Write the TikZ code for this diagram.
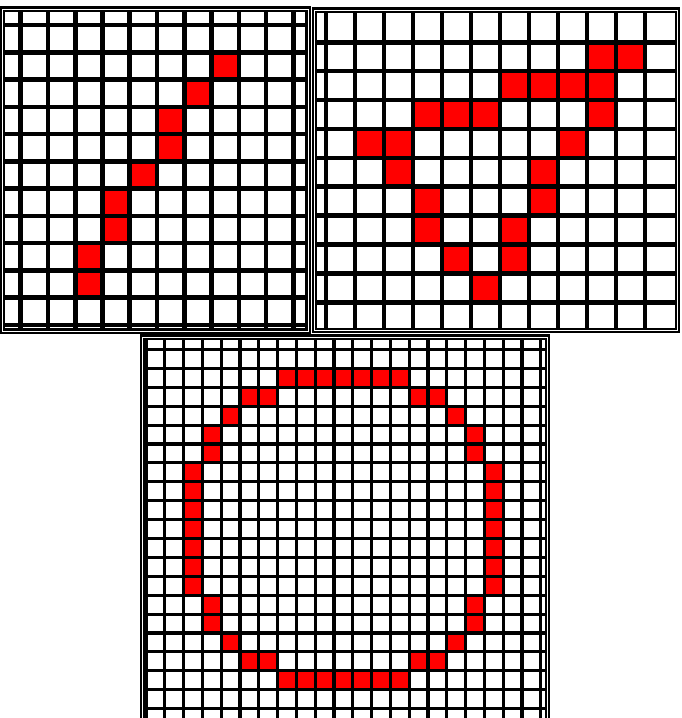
\documentclass[tikz,border=0pt]{standalone}
\usepackage{tikz}

\begin{document}
\begin{tikzpicture}[
    x=1pt, y=-1pt,
    wideline/.style={line width=4.6pt},
    narrowline/.style={line width=3.1pt},
    frame/.style={line width=2.3pt, double=white, double distance=0.6pt},
    hit/.style={fill=red}
]
\useasboundingbox (0,0) rectangle (681,718);
\clip (0,0) rectangle (681,718);
\fill[white] (0,0) rectangle (681,718);

\foreach \c/\r in {7/1,6/2,5/3,5/4,4/5,3/6,3/7,2/8,2/9}
  \fill[hit] ({20.7+27.27*\c},{25+27.27*\r}) rectangle ++(27.27,27.27);
\foreach \i in {0,...,10}
  \draw[wideline] ({20.7+27.27*\i},9) -- ({20.7+27.27*\i},331);
\foreach \k in {0,...,11}
  \draw[wideline] (2,{25+27.27*\k}) -- (308,{25+27.27*\k});
\draw[frame] (2,9) rectangle (308,331);

\foreach \r/\cs in {1/{9,10},2/{6,7,8,9},3/{3,4,5,9},4/{1,2,8},5/{2,7},6/{3,7},7/{3,6},8/{4,6},9/{5}}
  \foreach \c in \cs
    \fill[hit] ({326+29*\c},{13.3+28.9*\r}) rectangle ++(29,28.9);
\foreach \i in {0,...,11}
  \draw[wideline] ({326+29*\i},10) -- ({326+29*\i},330.5);
\foreach \k in {1,...,10}
  \draw[wideline] (314.7,{13.3+28.9*\k}) -- (677.5,{13.3+28.9*\k});
\draw[frame] (314.7,10) rectangle (677.5,330.5);

\foreach \r/\cs in {1/{7,...,13},2/{5,6,14,15},3/{4,16},4/{3,17},5/{3,17},6/{2,18},7/{2,18},8/{2,18},9/{2,18},10/{2,18},11/{2,18},12/{2,18},13/{3,17},14/{3,17},15/{4,16},16/{5,6,14,15},17/{7,...,13}}
  \foreach \c in \cs
    \fill[hit] ({146+18.8*\c},{349.5+18.9*\r}) rectangle ++(18.8,18.9);
\foreach \i in {0,...,21}
  \draw[narrowline] ({146+18.8*\i},337) -- ({146+18.8*\i},730);
\foreach \k in {0,...,19}
  \draw[narrowline] (142.5,{349.5+18.9*\k}) -- (547.5,{349.5+18.9*\k});
\draw[frame] (142.5,337) rectangle (547.5,730);
\end{tikzpicture}
\end{document}
